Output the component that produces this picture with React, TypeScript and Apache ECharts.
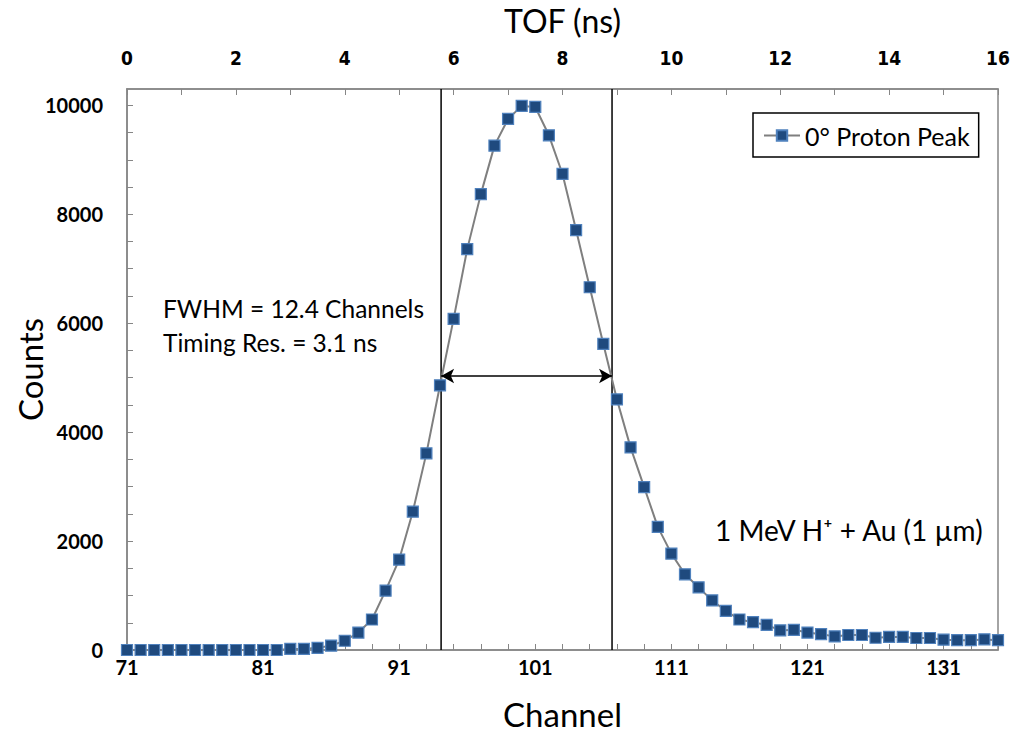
import React, { useEffect, useRef } from "react";
import * as echarts from "echarts";

const channels: number[] = [];
for (let c = 71; c <= 135; c++) channels.push(c);
const channelLabels = channels.map(String);

const counts: number[] = [
  0, 0, 0, 0, 0, 0, 0, 0, 0, 0, 0, 0,
  20, 20, 40, 80, 170, 320, 560, 1090,
  1660, 2540, 3610, 4860, 6080, 7360, 8370, 9260, 9750, 9990,
  9970, 9450, 8740, 7710, 6660, 5620, 4600, 3720, 2990, 2260,
  1770, 1390, 1150, 910, 720, 560, 510, 460, 360, 370,
  320, 290, 250, 275, 275, 225, 240, 240, 220, 220,
  190, 180, 180, 195, 180,
];

const fwhmTof: number[] = [5.77, 8.91];
const halfMax = 5030;
const yMax = 10300;

const seriesName = "0° Proton Peak";
const font = "Lato, 'Open Sans', sans-serif";

export default function App() {
  const ref = useRef<HTMLDivElement>(null);
  useEffect(() => {
    if (!ref.current) return;
    const chart = echarts.init(ref.current, null, { renderer: "svg" });
    const axisGray = "#868686";
    const vlines = fwhmTof.map((t) => ({
      type: "line",
      xAxisIndex: 1,
      yAxisIndex: 0,
      data: [[t, 0], [t, yMax]],
      symbol: "none",
      silent: true,
      lineStyle: { color: "#000", width: 1.5 },
      z: 1,
    }));
    chart.setOption({
      animation: false,
      backgroundColor: "#fff",
      grid: {
        left: 127,
        right: 17,
        top: 89,
        bottom: 90,
        show: true,
        borderColor: axisGray,
        borderWidth: 1.5,
        containLabel: false,
        outerBoundsMode: "none",
      },
      legend: {
        data: [seriesName],
        left: 753,
        top: 113,
        borderColor: "#000",
        borderWidth: 1.5,
        borderRadius: 0,
        padding: [10, 9, 9, 10],
        itemWidth: 36,
        itemHeight: 13,
        itemGap: 4,
        textStyle: { fontFamily: font, fontSize: 25, color: "#000" },
      },
      xAxis: [
        {
          type: "category",
          data: channelLabels,
          boundaryGap: false,
          position: "bottom",
          name: "Channel",
          nameLocation: "middle",
          nameMoveOverlap: false,
          nameGap: 47,
          nameTextStyle: { fontFamily: font, fontSize: 33, lineHeight: 34, color: "#000" },
          axisLine: { lineStyle: { color: axisGray, width: 1.5 } },
          axisTick: { inside: true, length: 6, interval: 1, lineStyle: { color: axisGray } },
          axisLabel: { interval: 9, margin: 7, fontFamily: font, fontWeight: "bold", fontSize: 20, color: "#000" },
          splitLine: { show: false },
        },
        {
          type: "value",
          min: 0,
          max: 16,
          interval: 1,
          position: "top",
          name: "TOF (ns)",
          nameLocation: "middle",
          nameMoveOverlap: false,
          nameGap: 53,
          nameTextStyle: { fontFamily: font, fontSize: 32, lineHeight: 32, color: "#000" },
          axisLine: { lineStyle: { color: axisGray, width: 1.5 } },
          axisTick: { inside: true, length: 6, lineStyle: { color: axisGray } },
          axisLabel: {
            margin: 22,
            fontFamily: "'DejaVu Sans Condensed', 'Liberation Sans Narrow', Lato, sans-serif",
            fontWeight: "bold",
            fontSize: 19,
            color: "#000",
            formatter: (v: number) => (v % 2 === 0 ? String(v) : ""),
          },
          splitLine: { show: false },
        },
      ],
      yAxis: {
        type: "value",
        min: 0,
        max: yMax,
        interval: 500,
        name: "Counts",
        nameLocation: "middle",
        nameMoveOverlap: false,
        nameGap: 80,
        nameTextStyle: { fontFamily: font, fontSize: 33, lineHeight: 34, color: "#000" },
        axisLine: { show: true, lineStyle: { color: axisGray, width: 1.5 } },
        axisTick: { show: true, inside: true, length: 6, lineStyle: { color: axisGray } },
        axisLabel: {
          margin: 24,
          fontFamily: font,
          fontWeight: "bold",
          fontSize: 20,
          color: "#000",
          showMaxLabel: false,
          formatter: (v: number) => (v % 2000 === 0 ? String(v) : ""),
        },
        splitLine: { show: false },
      },
      series: [
        ...vlines,
        {
          type: "line",
          xAxisIndex: 1,
          yAxisIndex: 0,
          data: [],
          silent: true,
          markLine: {
            silent: true,
            symbol: ["arrow", "arrow"],
            symbolSize: [11, 13],
            label: { show: false },
            lineStyle: { color: "#000", width: 1.5, type: "solid" },
            data: [[{ coord: [fwhmTof[0], halfMax] }, { coord: [fwhmTof[1], halfMax] }]],
          },
        },
        {
          name: seriesName,
          type: "line",
          xAxisIndex: 0,
          yAxisIndex: 0,
          data: counts,
          symbol: "rect",
          symbolSize: 11,
          showAllSymbol: true,
          lineStyle: { color: "#7f7f7f", width: 2 },
          itemStyle: { color: "#1F4A7E", borderColor: "#4F81BD", borderWidth: 1.2 },
          z: 3,
        },
      ],
      graphic: [
        {
          type: "text",
          left: 163,
          top: 291,
          style: {
            text: "FWHM = 12.4 Channels\nTiming Res. = 3.1 ns",
            fontFamily: font,
            fontSize: 24.5,
            lineHeight: 34,
            fill: "#000",
          },
        },
        {
          type: "text",
          left: 715,
          top: 516,
          style: { text: "1 MeV H⁺ + Au (1 µm)", fontFamily: font, fontSize: 28, fill: "#000" },
        },
      ],
    });
    return () => chart.dispose();
  }, []);
  return <div ref={ref} style={{ width: 1015, height: 740, position: "absolute", left: 0, top: 0 }} />;
}
